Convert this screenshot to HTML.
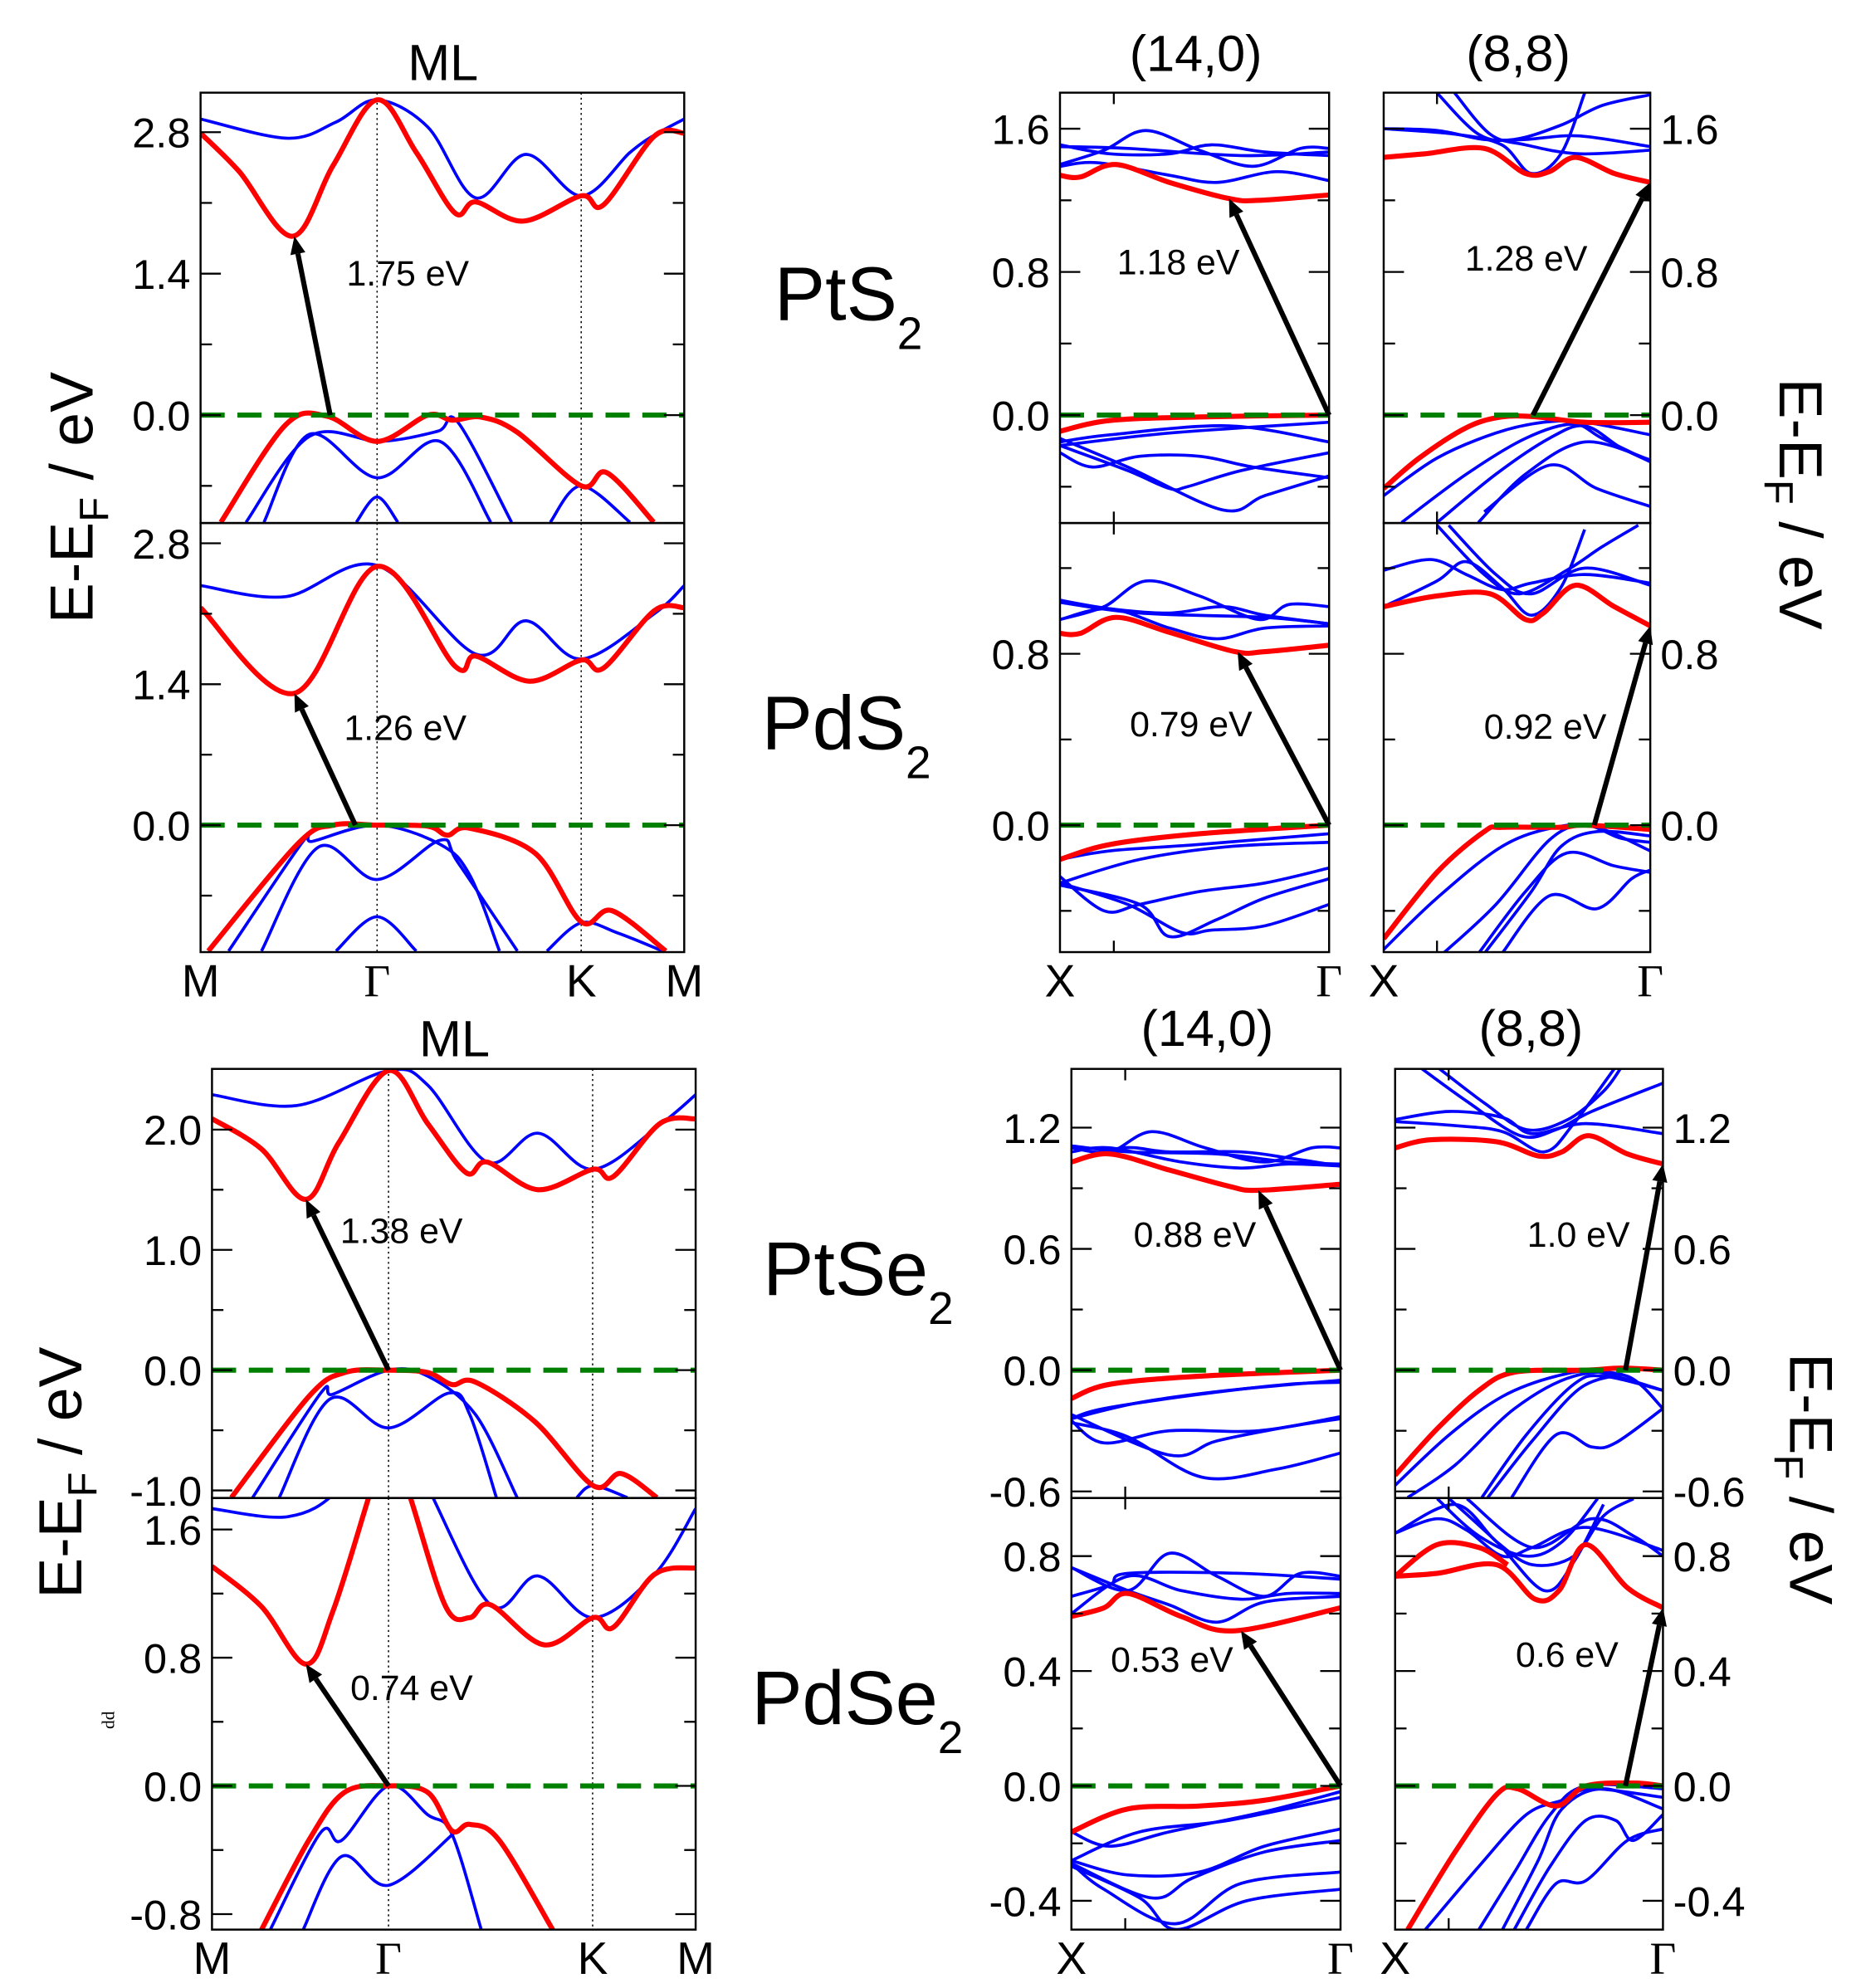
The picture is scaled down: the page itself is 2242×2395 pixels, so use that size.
<!DOCTYPE html>
<html><head><meta charset="utf-8"><style>
html,body{margin:0;padding:0;background:#fff}
svg{display:block}
text{font-family:"Liberation Sans",sans-serif;fill:#000}
</style></head><body>
<svg id="fig" xmlns="http://www.w3.org/2000/svg" width="2242" height="2395" viewBox="0 0 1466 1566" preserveAspectRatio="none">
<rect width="1466" height="1566" fill="#fff"/>
<g id="layer"></g>
</svg>
<script>
// ===== data: band energies (eV) vs normalised k along path =====
const mlKpointLabels = ["M","Γ","K","M"];
const mlKpointPos = [0,0.365,0.787,1];
const tubeKpointLabels = ["X","Γ"];

const PtS2_ML_bands = [
 {c:"b",k:[0,.18,.28,.365,.47,.569,.673,.787,.888,.938,1],e:[2.93,2.74,2.9,3.12,2.85,2.15,2.58,2.17,2.6,2.77,2.93]},
 {c:"r",k:[0,.08,.19,.274,.365,.446,.526,.569,.667,.787,.833,.938,1],e:[2.79,2.41,1.77,2.47,3.12,2.6,2.0,2.11,1.92,2.17,2.08,2.76,2.79]},
 {c:"b",k:[.094,.225,.372,.49,.532,.643],e:[-1.06,-0.21,-0.26,-0.16,-0.07,-1.06]},
 {c:"b",k:[.131,.225,.365,.495,.6],e:[-1.06,-0.19,-0.62,-0.26,-1.06]},
 {c:"b",k:[.322,.365,.408],e:[-1.06,-0.81,-1.06]},
 {c:"b",k:[.723,.787,.888],e:[-1.06,-0.70,-1.06]},
 {c:"r",k:[.042,.175,.261,.365,.47,.52,.58,.655,.787,.84,.937],e:[-1.06,-0.1,-0.01,-0.26,0,-0.05,-0.02,-0.17,-0.70,-0.57,-1.06]}
];
const PdS2_ML_bands = [
 {c:"b",k:[0,.176,.365,.569,.673,.787,.938,1],e:[2.38,2.27,2.58,1.7,2.03,1.65,2.1,2.38]},
 {c:"r",k:[0,.194,.365,.526,.569,.68,.787,.833,.938,1],e:[2.16,1.31,2.57,1.58,1.68,1.43,1.64,1.56,2.13,2.16]},
 {c:"b",k:[.058,.212,.232,.365,.495,.557,.618],e:[-1.25,-0.16,-0.16,0,-0.19,-0.5,-1.25]},
 {c:"b",k:[.126,.243,.365,.495,.532,.655],e:[-1.25,-0.22,-0.54,-0.15,-0.37,-1.25]},
 {c:"b",k:[.28,.365,.446],e:[-1.25,-0.91,-1.25]},
 {c:"b",k:[.716,.787,.862,.955],e:[-1.25,-0.97,-1.07,-1.25]},
 {c:"r",k:[.016,.2,.274,.365,.47,.51,.556,.692,.787,.851,.962],e:[-1.25,-0.19,0,0,-0.01,-0.1,-0.03,-0.28,-0.96,-0.85,-1.25]}
];
const PtSe2_ML_bands = [
 {c:"b",k:[0,.176,.365,.446,.569,.674,.788,.926,1],e:[2.29,2.2,2.49,2.37,1.73,1.97,1.67,2.04,2.29]},
 {c:"r",k:[0,.102,.194,.262,.365,.446,.526,.569,.674,.788,.83,.926,1],e:[2.09,1.84,1.42,1.89,2.49,2.05,1.64,1.73,1.5,1.67,1.61,2.05,2.09]},
 {c:"b",k:[.084,.225,.25,.365,.446,.545,.631],e:[-1.06,-0.19,-0.2,0,-0.05,-0.37,-1.06]},
 {c:"b",k:[.139,.244,.365,.49,.533,.588],e:[-1.06,-0.24,-0.48,-0.19,-0.37,-1.06]},
 {c:"b",k:[.754,.788,.859],e:[-1.06,-0.96,-1.06]},
 {c:"r",k:[.04,.2,.274,.365,.446,.496,.545,.668,.788,.846,.92],e:[-1.06,-0.22,-0.02,0,-0.02,-0.12,-0.1,-0.43,-0.96,-0.86,-1.06]}
];
const PdSe2_ML_bands = [
 {c:"b",k:[0,.157,.262,.365,.44,.576,.674,.788,.915,1],e:[1.73,1.68,1.85,2.3,1.9,1.13,1.31,1.05,1.32,1.73]},
 {c:"r",k:[0,.102,.194,.25,.324,.365,.41,.483,.533,.576,.687,.788,.83,.915,1],e:[1.37,1.12,0.76,1.09,1.8,2.2,1.8,1.12,1.05,1.13,0.88,1.05,0.99,1.32,1.36]},
 {c:"b",k:[.12,.225,.268,.365,.446,.496,.557],e:[-0.9,-0.29,-0.34,0,-0.18,-0.3,-0.9]},
 {c:"b",k:[.188,.268,.365,.502],e:[-0.9,-0.44,-0.62,-0.29]},
 {c:"r",k:[.102,.2,.274,.365,.446,.496,.533,.594,.705],e:[-0.9,-0.34,-0.04,0,-0.04,-0.28,-0.24,-0.34,-0.9]}
];

const PtS2_140_bands = [
 {c:"b",k:[0,.164,.319,.518,.717,.894,1],e:[1.40,1.48,1.59,1.48,1.39,1.49,1.49]},
 {c:"b",k:[0,.186,.407,.562,.761,1],e:[1.51,1.46,1.46,1.51,1.47,1.45]},
 {c:"b",k:[0,.14,.407,.584,.805,1],e:[1.39,1.41,1.34,1.30,1.36,1.31]},
 {c:"b",k:[0,.252,.673,1],e:[1.50,1.49,1.45,1.47]},
 {c:"r",k:[0,.075,.208,.407,.628,.739,1],e:[1.34,1.33,1.40,1.30,1.21,1.20,1.23]},
 {c:"b",k:[0,.407,1],e:[-0.17,-0.10,-0.04]},
 {c:"b",k:[0,.186,.628,1],e:[-0.15,-0.11,-0.06,-0.15]},
 {c:"b",k:[0,.12,.296,.518,.717,1],e:[-0.21,-0.29,-0.23,-0.23,-0.29,-0.35]},
 {c:"b",k:[0,.252,.407,.473,.673,1],e:[-0.17,-0.31,-0.41,-0.40,-0.31,-0.21]},
 {c:"b",k:[0,.252,.606,.761,1],e:[-0.13,-0.29,-0.53,-0.45,-0.34]},
 {c:"r",k:[0,.186,.518,1],e:[-0.09,-0.03,-0.01,0]}
];
const PtS2_88_bands = [
 {c:"b",k:[0,.2,.377,.532,.732,1],e:[1.60,1.59,1.54,1.54,1.56,1.50]},
 {c:"b",k:[0,.266,.443,.554,.665,.754],e:[1.60,1.57,1.51,1.35,1.46,1.80]},
 {c:"b",k:[.2,.355,.488,.665,.82,1],e:[1.80,1.57,1.54,1.62,1.73,1.79]},
 {c:"b",k:[.266,.399,.532,.732,1],e:[1.80,1.57,1.51,1.46,1.48]},
 {c:"r",k:[0,.155,.377,.532,.621,.72,.865,1],e:[1.44,1.46,1.49,1.35,1.36,1.44,1.35,1.30]},
 {c:"b",k:[0,.2,.421,.599,.754,1],e:[-0.45,-0.24,-0.10,-0.04,-0.04,-0.11]},
 {c:"b",k:[.067,.31,.532,.71,.82,1],e:[-0.6,-0.33,-0.13,-0.05,-0.13,-0.26]},
 {c:"b",k:[.2,.421,.621,.754,.887,1],e:[-0.6,-0.33,-0.13,-0.06,-0.18,-0.26]},
 {c:"b",k:[.355,.532,.754,1],e:[-0.6,-0.33,-0.15,-0.25]},
 {c:"b",k:[.377,.621,.8,1],e:[-0.54,-0.28,-0.41,-0.51]},
 {c:"r",k:[0,.133,.31,.443,.576,.754,1],e:[-0.41,-0.24,-0.07,-0.01,-0.01,-0.04,-0.04]}
];
const PdS2_140_bands = [
 {c:"b",k:[0,.164,.319,.518,.739,.85,1],e:[0.96,1.02,1.14,1.07,0.96,1.03,1.02]},
 {c:"b",k:[0,.186,.407,.606,.761,1],e:[1.05,1.01,0.99,1.02,0.98,0.94]},
 {c:"b",k:[0,.186,.407,.584,.761,1],e:[0.96,1.01,0.92,0.87,0.92,0.93]},
 {c:"b",k:[0,.296,.761,1],e:[1.04,0.99,0.97,0.94]},
 {c:"r",k:[0,.075,.208,.407,.65,.761,1],e:[0.895,0.895,0.97,0.90,0.81,0.81,0.84]},
 {c:"b",k:[0,.186,.518,1],e:[-0.16,-0.12,-0.09,-0.04]},
 {c:"b",k:[0,.296,.628,1],e:[-0.27,-0.16,-0.10,-0.08]},
 {c:"b",k:[0,.164,.296,.518,.761,1],e:[-0.24,-0.40,-0.37,-0.31,-0.27,-0.20]},
 {c:"b",k:[0,.296,.407,.584,.761,1],e:[-0.28,-0.37,-0.52,-0.44,-0.34,-0.25]},
 {c:"b",k:[0,.252,.45,.562,.761,1],e:[-0.27,-0.37,-0.5,-0.49,-0.47,-0.37]},
 {c:"r",k:[0,.186,.518,1],e:[-0.16,-0.09,-0.04,0]}
];
const PdS2_88_bands = [
 {c:"b",k:[0,.177,.31,.443,.554,.754,1],e:[1.19,1.24,1.17,1.10,1.13,1.17,1.13]},
 {c:"b",k:[0,.2,.31,.443,.554,.665,.754],e:[1.02,1.14,1.23,1.11,0.98,1.11,1.38]},
 {c:"b",k:[.2,.377,.51,.687,.82,.955],e:[1.40,1.17,1.08,1.19,1.30,1.40]},
 {c:"b",k:[.244,.421,.554,.754,1],e:[1.40,1.17,1.08,1.20,1.12]},
 {c:"r",k:[0,.2,.399,.532,.599,.72,.865,1],e:[1.02,1.07,1.08,0.96,0.99,1.12,1.02,0.93]},
 {c:"b",k:[0,.2,.443,.643,.798,1],e:[-0.58,-0.34,-0.10,-0.01,-0.01,-0.12]},
 {c:"b",k:[.222,.421,.621,.754,.887,1],e:[-0.6,-0.37,-0.07,0,-0.06,-0.08]},
 {c:"b",k:[.355,.532,.687,.865,1],e:[-0.6,-0.31,-0.13,-0.19,-0.22]},
 {c:"b",k:[.377,.554,.665,.8,1],e:[-0.6,-0.31,-0.10,-0.03,-0.05]},
 {c:"b",k:[.443,.621,.8,.93,1],e:[-0.6,-0.33,-0.39,-0.25,-0.21]},
 {c:"r",k:[0,.2,.377,.443,.665,.754,1],e:[-0.53,-0.22,-0.03,-0.01,-0.01,0,-0.02]}
];
const PtSe2_140_bands = [
 {c:"b",k:[0,.143,.298,.497,.717,.894,1],e:[1.10,1.08,1.18,1.10,1.03,1.10,1.10]},
 {c:"b",k:[0,.21,.541,.806,1],e:[1.11,1.08,1.07,1.03,1.02]},
 {c:"b",k:[0,.143,.408,.629,.806,1],e:[1.08,1.10,1.03,1.00,1.02,1.01]},
 {c:"b",k:[0,.188,.364,.629,.806,1],e:[1.03,1.10,1.08,1.08,1.05,1.01]},
 {c:"r",k:[0,.143,.364,.585,.695,1],e:[1.03,1.07,0.99,0.91,0.89,0.92]},
 {c:"b",k:[0,.254,.585,1],e:[-0.24,-0.16,-0.10,-0.05]},
 {c:"b",k:[0,.121,.475,.806,1],e:[-0.24,-0.19,-0.12,-0.07,-0.06]},
 {c:"b",k:[0,.121,.364,.695,1],e:[-0.25,-0.36,-0.30,-0.30,-0.23]},
 {c:"b",k:[0,.364,.541,.806,1],e:[-0.22,-0.42,-0.35,-0.28,-0.24]},
 {c:"b",k:[0,.21,.486,.762,1],e:[-0.26,-0.33,-0.53,-0.49,-0.41]},
 {c:"r",k:[0,.143,.475,1],e:[-0.14,-0.07,-0.03,0]}
];
const PtSe2_88_bands = [
 {c:"b",k:[0,.202,.401,.512,.712,1],e:[1.24,1.28,1.25,1.17,1.22,1.17]},
 {c:"b",k:[0,.224,.401,.557,.667,.823],e:[1.23,1.21,1.18,1.08,1.22,1.50]},
 {c:"b",k:[.091,.268,.468,.601,.734,1],e:[1.50,1.33,1.16,1.19,1.28,1.42]},
 {c:"b",k:[.157,.335,.49,.645,.778,.845],e:[1.50,1.32,1.19,1.24,1.38,1.50]},
 {c:"r",k:[0,.135,.379,.534,.623,.723,.867,1],e:[1.10,1.14,1.13,1.06,1.08,1.16,1.07,1.02]},
 {c:"b",k:[0,.202,.401,.601,.756,1],e:[-0.57,-0.32,-0.13,-0.03,-0.01,-0.10]},
 {c:"b",k:[.047,.224,.446,.667,.867,1],e:[-0.63,-0.47,-0.19,-0.03,-0.03,-0.19]},
 {c:"b",k:[.324,.49,.667,.778,1],e:[-0.63,-0.32,-0.07,-0.03,-0.10]},
 {c:"b",k:[.346,.512,.69,.85],e:[-0.63,-0.35,-0.09,-0.02]},
 {c:"b",k:[.435,.601,.734,.823,1],e:[-0.63,-0.32,-0.38,-0.36,-0.19]},
 {c:"r",k:[0,.157,.313,.446,.712,.845,1],e:[-0.52,-0.29,-0.10,-0.01,0,0.01,0]}
];
const PdSe2_140_bands = [
 {c:"b",k:[0,.21,.364,.541,.717,.85,1],e:[0.76,0.68,0.81,0.73,0.66,0.74,0.73]},
 {c:"b",k:[0,.143,.21,.629,1],e:[0.66,0.70,0.74,0.74,0.72]},
 {c:"b",k:[0,.21,.408,.629,.806,1],e:[0.60,0.73,0.68,0.65,0.67,0.67]},
 {c:"b",k:[0,.21,.364,.541,.717,1],e:[0.76,0.68,0.63,0.57,0.64,0.66]},
 {c:"r",k:[0,.121,.21,.408,.607,1],e:[0.59,0.62,0.67,0.59,0.54,0.62]},
 {c:"b",k:[0,.143,.364,.717,1],e:[-0.16,-0.21,-0.16,-0.09,-0.02]},
 {c:"b",k:[0,.254,.585,1],e:[-0.26,-0.16,-0.12,-0.04]},
 {c:"b",k:[0,.21,.475,.717,1],e:[-0.26,-0.31,-0.30,-0.21,-0.15]},
 {c:"b",k:[0,.298,.452,.717,1],e:[-0.27,-0.39,-0.32,-0.23,-0.19]},
 {c:"b",k:[0,.121,.386,.629,1],e:[-0.27,-0.36,-0.48,-0.34,-0.30]},
 {c:"b",k:[0,.254,.39,.651,1],e:[-0.28,-0.39,-0.5,-0.40,-0.36]},
 {c:"r",k:[0,.21,.475,.717,1],e:[-0.16,-0.08,-0.07,-0.05,0]}
];
const PdSe2_88_bands = [
 {c:"b",k:[0,.157,.268,.401,.512,.712,1],e:[0.88,0.93,0.89,0.80,0.83,0.90,0.82]},
 {c:"b",k:[0,.224,.379,.512,.667,.778,.89],e:[0.88,0.98,0.85,0.77,0.80,0.94,1.0]},
 {c:"b",k:[.202,.379,.557,.667,.778],e:[1.0,0.85,0.68,0.78,0.98]},
 {c:"b",k:[.268,.512,.734,.89,1],e:[1.0,0.83,0.93,0.87,0.80]},
 {c:"b",k:[.157,.313,.49,.623,.756],e:[1.0,0.87,0.80,0.85,1.0]},
 {c:"r",k:[0,.157,.313,.42],e:[0.73,0.84,0.83,0.77]},
 {c:"r",k:[0,.157,.379,.523,.612,.712,.867,1],e:[0.73,0.74,0.77,0.65,0.68,0.84,0.69,0.62]},
 {c:"b",k:[.113,.313,.49,.623,.734,1],e:[-0.5,-0.28,-0.10,-0.05,-0.01,-0.04]},
 {c:"b",k:[.313,.446,.579,.712,1],e:[-0.5,-0.30,-0.10,0,-0.01]},
 {c:"b",k:[.401,.534,.623,.778,1],e:[-0.5,-0.26,-0.08,-0.01,-0.08]},
 {c:"b",k:[.445,.579,.712,.823,.889,1],e:[-0.5,-0.28,-0.12,-0.12,-0.19,-0.10]},
 {c:"b",k:[.49,.601,.712,.867,1],e:[-0.5,-0.34,-0.33,-0.19,-0.15]},
 {c:"r",k:[.047,.224,.379,.457,.601,.712,.889,1],e:[-0.5,-0.23,-0.03,-0.01,-0.07,0,0.01,0]}
];

// gap arrows: [kVBM, eVBM, kCBM, eCBM]
const gapArrows = {
 PtS2_ML:[.268,0,.194,1.77], PdS2_ML:[.32,0,.194,1.31], PtSe2_ML:[.365,0,.194,1.42], PdSe2_ML:[.365,0,.194,0.76],
 PtS2_140:[1,0,.628,1.21], PtS2_88:[.56,0,1,1.30], PdS2_140:[1,0,.66,0.81], PdS2_88:[.79,0,1,0.93],
 PtSe2_140:[1,0,.695,0.89], PtSe2_88:[.86,0,1,1.02], PdSe2_140:[1,0,.63,0.54], PdSe2_88:[.86,0,1,0.62]
};
const gapLabels = {
 PtS2_ML:"1.75 eV", PdS2_ML:"1.26 eV", PtSe2_ML:"1.38 eV", PdSe2_ML:"0.74 eV",
 PtS2_140:"1.18 eV", PtS2_88:"1.28 eV", PdS2_140:"0.79 eV", PdS2_88:"0.92 eV",
 PtSe2_140:"0.88 eV", PtSe2_88:"1.0 eV", PdSe2_140:"0.53 eV", PdSe2_88:"0.6 eV"
};
const tickMajor = {
 PtS2_ML:[0,1.4,2.8], PdS2_ML:[0,1.4,2.8], PtSe2_ML:[-1,0,1,2], PdSe2_ML:[-0.8,0,0.8,1.6],
 PtS2_T:[0,0.8,1.6], PdS2_T:[0,0.8], PtSe2_T:[-0.6,0,0.6,1.2], PdSe2_T:[-0.4,0,0.4,0.8]
};
const tickMinor = {
 PtS2_ML:[-0.7,0.7,2.1], PdS2_ML:[-0.7,0.7,2.1], PtSe2_ML:[-0.5,0.5,1.5], PdSe2_ML:[-0.4,0.4,1.2],
 PtS2_T:[-0.4,0.4,1.2], PdS2_T:[-0.4,0.4,1.2], PtSe2_T:[-0.3,0.3,0.9], PdSe2_T:[-0.2,0.2,0.6]
};

// ===== layout (geometry, not data) =====
const panels = [
 {id:"PtS2_ML",bands:PtS2_ML_bands,ml:true,x0:158,x1:539,y0:73,y1:412,z:327,p:79.6,ticks:"PtS2_ML",lab:"left",lx:[273,215]},
 {id:"PdS2_ML",bands:PdS2_ML_bands,ml:true,x0:158,x1:539,y0:412,y1:750,z:650,p:79.3,ticks:"PdS2_ML",lab:"left",lx:[271,573],xl:true},
 {id:"PtS2_140",bands:PtS2_140_bands,x0:835,x1:1047,y0:73,y1:412,z:327,p:141,ticks:"PtS2_T",lab:"left",lx:[880,206]},
 {id:"PtS2_88",bands:PtS2_88_bands,x0:1090,x1:1300,y0:73,y1:412,z:327,p:141,ticks:"PtS2_T",lab:"right",lx:[1154,203]},
 {id:"PdS2_140",bands:PdS2_140_bands,x0:835,x1:1047,y0:412,y1:750,z:650,p:168.75,ticks:"PdS2_T",lab:"left",lx:[890,570],xl:true},
 {id:"PdS2_88",bands:PdS2_88_bands,x0:1090,x1:1300,y0:412,y1:750,z:650,p:168.75,ticks:"PdS2_T",lab:"right",lx:[1169,572],xl:true},
 {id:"PtSe2_ML",bands:PtSe2_ML_bands,ml:true,x0:167,x1:548,y0:842,y1:1180,z:1079.3,p:94.75,ticks:"PtSe2_ML",lab:"left",lx:[268,969]},
 {id:"PdSe2_ML",bands:PdSe2_ML_bands,ml:true,x0:167,x1:548,y0:1180,y1:1520,z:1406.8,p:126.25,ticks:"PdSe2_ML",lab:"left",lx:[276,1329],xl:true},
 {id:"PtSe2_140",bands:PtSe2_140_bands,x0:844,x1:1056,y0:842,y1:1180,z:1079.3,p:159.2,ticks:"PtSe2_T",lab:"left",lx:[893,972]},
 {id:"PtSe2_88",bands:PtSe2_88_bands,x0:1099,x1:1310,y0:842,y1:1180,z:1079.3,p:159.2,ticks:"PtSe2_T",lab:"right",lx:[1203,972]},
 {id:"PdSe2_140",bands:PdSe2_140_bands,x0:844,x1:1056,y0:1180,y1:1520,z:1406.8,p:226.25,ticks:"PdSe2_T",lab:"left",lx:[875,1307],xl:true},
 {id:"PdSe2_88",bands:PdSe2_88_bands,x0:1099,x1:1310,y0:1180,y1:1520,z:1406.8,p:226.25,ticks:"PdSe2_T",lab:"right",lx:[1194,1303],xl:true}
];

const NS="http://www.w3.org/2000/svg";
const layer=document.getElementById("layer");
function mk(tag,attrs,parent){const el=document.createElementNS(NS,tag);for(const a in attrs)el.setAttribute(a,attrs[a]);(parent||layer).appendChild(el);return el;}
function smooth(pts){
 if(pts.length<2)return "";
 let d="M"+pts[0][0].toFixed(2)+","+pts[0][1].toFixed(2);
 for(let i=0;i<pts.length-1;i++){
  const p0=pts[i-1]||pts[i],p1=pts[i],p2=pts[i+1],p3=pts[i+2]||p2;
  const c1=[p1[0]+(p2[0]-p0[0])/6,p1[1]+(p2[1]-p0[1])/6];
  const c2=[p2[0]-(p3[0]-p1[0])/6,p2[1]-(p3[1]-p1[1])/6];
  d+="C"+c1[0].toFixed(2)+","+c1[1].toFixed(2)+" "+c2[0].toFixed(2)+","+c2[1].toFixed(2)+" "+p2[0].toFixed(2)+","+p2[1].toFixed(2);
 }
 return d;
}
const fmt=v=>(Math.abs(v)<1e-9?0:v).toFixed(1);

panels.forEach(P=>{
 const g=mk("g",{});
 
 
 const xOf=k=>P.x0+k*(P.x1-P.x0);
 const yOf=e=>P.z-e*P.p;
 const cid="clip-"+P.id;
 const cp=mk("clipPath",{id:cid},g);
 mk("rect",{x:P.x0,y:P.y0,width:P.x1-P.x0,height:P.y1-P.y0},cp);
 const data=mk("g",{"clip-path":"url(#"+cid+")"},g);
 if(P.ml){
  [mlKpointPos[1],mlKpointPos[2]].forEach(k=>{
   const l=mk("line",{x1:xOf(k),x2:xOf(k),y1:P.y0,y2:P.y1,stroke:"#000","stroke-width":1,"stroke-dasharray":"1.5,2.5"},data);
   
   
  });
 }
 // blue first then red
 ["b","r"].forEach(col=>{
  P.bands.filter(b=>b.c===col).forEach((b,i)=>{
   const pts=b.k.map((k,j)=>[xOf(k),yOf(b.e[j])]);
   const p=mk("path",{d:smooth(pts),fill:"none",stroke:col==="r"?"#ff0000":"#0000ff","stroke-width":col==="r"?4:2.4,"stroke-linejoin":"round"},data);
   
   
  });
 });
 const fl=mk("line",{x1:P.x0,x2:P.x1,y1:yOf(0),y2:yOf(0),stroke:"#008000","stroke-width":4,"stroke-dasharray":"19,10"},g);
 
 
 // frame
 const fr=mk("rect",{x:P.x0,y:P.y0,width:P.x1-P.x0,height:P.y1-P.y0,fill:"none",stroke:"#000","stroke-width":1.6},g);
 
 
 // ticks
 const tk=(e,len)=>{
  const y=yOf(e); if(y<P.y0-0.5||y>P.y1+0.5)return;
  mk("line",{x1:P.x0,x2:P.x0+len,y1:y,y2:y,stroke:"#000","stroke-width":1.5},g);
  mk("line",{x1:P.x1-len,x2:P.x1,y1:y,y2:y,stroke:"#000","stroke-width":1.5},g);
 };
 tickMajor[P.ticks].forEach(e=>tk(e,16));
 tickMinor[P.ticks].forEach(e=>tk(e,9));
 tickMajor[P.ticks].forEach(e=>{
  const y=yOf(e); if(y<P.y0-8||y>P.y1+8)return;
  const t=mk("text",{x:P.lab==="left"?P.x0-8:P.x1+8,y:y+12,"font-size":33,"text-anchor":P.lab==="left"?"end":"start"},g);
  t.textContent=fmt(e);
  
  
 });
 if(!P.ml){
  const xm=xOf(0.2);
  mk("line",{x1:xm,x2:xm,y1:P.y1,y2:P.y1-9,stroke:"#000","stroke-width":1.5},g);
  mk("line",{x1:xm,x2:xm,y1:P.y0,y2:P.y0+9,stroke:"#000","stroke-width":1.5},g);
 }
 // x labels
 if(P.xl){
  const labs=P.ml?mlKpointLabels:tubeKpointLabels;
  const pos=P.ml?mlKpointPos:[0,1];
  labs.forEach((s,i)=>{
   const t=mk("text",{x:xOf(pos[i]),y:P.y1+35,"font-size":36,"text-anchor":"middle"},g);
   if(s==="Γ")t.setAttribute("style","font-family:'Liberation Serif',serif");
   t.textContent=s;
   
   
  });
 }
 // arrow
 const a=gapArrows[P.id];
 const xA=xOf(a[0]),yA=yOf(a[1]),xB=xOf(a[2]),yB=yOf(a[3]);
 const dx=xB-xA,dy=yB-yA,L=Math.hypot(dx,dy),ux=dx/L,uy=dy/L;
 const hl=14,hw=6;
 const bx=xB-ux*hl,by=yB-uy*hl;
 const ag=mk("g",{},g);
 
 
 mk("line",{x1:xA,y1:yA,x2:bx,y2:by,stroke:"#000","stroke-width":4},ag);
 mk("polygon",{points:[xB,yB,bx-uy*hw,by+ux*hw,bx+uy*hw,by-ux*hw].map(v=>v.toFixed(2)).join(","),fill:"#000"},ag);
 const gt=mk("text",{x:P.lx[0],y:P.lx[1]+10,"font-size":28},g);
 gt.textContent=gapLabels[P.id];
 
 
});

function txt(x,y,size,s,name,extra){const t=mk("text",Object.assign({x:x,y:y,"font-size":size},extra||{}));t.textContent=s;return t;}
txt(349,63,40,"ML","title-ml-top",{"text-anchor":"middle"});
txt(942,56,40,"(14,0)","title-14-0-top",{"text-anchor":"middle"});
txt(1196,56,40,"(8,8)","title-8-8-top",{"text-anchor":"middle"});
txt(358,832,40,"ML","title-ml-bottom",{"text-anchor":"middle"});
txt(951,824,40,"(14,0)","title-14-0-bottom",{"text-anchor":"middle"});
txt(1206,824,40,"(8,8)","title-8-8-bottom",{"text-anchor":"middle"});

function material(x,y,base,name){
 const t=mk("text",{x:x,y:y,"font-size":60});
 
 
 t.appendChild(document.createTextNode(base));
 const s=mk("tspan",{"font-size":36,dy:23},t); s.textContent="2";
}
material(610,252,"PtS","material-label-pts2");
material(600,590,"PdS","material-label-pds2");
material(601,1020,"PtSe","material-label-ptse2");
material(592,1358,"PdSe","material-label-pdse2");

function ylabel(cx,cy,rot,name){
 const t=mk("text",{x:0,y:0,"font-size":48,"text-anchor":"middle",transform:"translate("+cx+","+cy+") rotate("+rot+")"});
 
 
 t.appendChild(document.createTextNode("E-E"));
 const s=mk("tspan",{"font-size":32,dy:12},t); s.textContent="F";
 const s2=mk("tspan",{dy:-12},t); s2.textContent=" / eV";
}
ylabel(73,392,-90,"y-axis-title-left-top");
ylabel(64,1160,-90,"y-axis-title-left-bottom");
ylabel(1402,397,90,"y-axis-title-right-top");
ylabel(1410,1165,90,"y-axis-title-right-bottom");
const dd=mk("text",{x:0,y:0,"font-size":14,transform:"translate(90,1362) rotate(-90)",style:"font-family:'Liberation Serif',serif"});
dd.textContent="dd";


</script>
</body></html>
